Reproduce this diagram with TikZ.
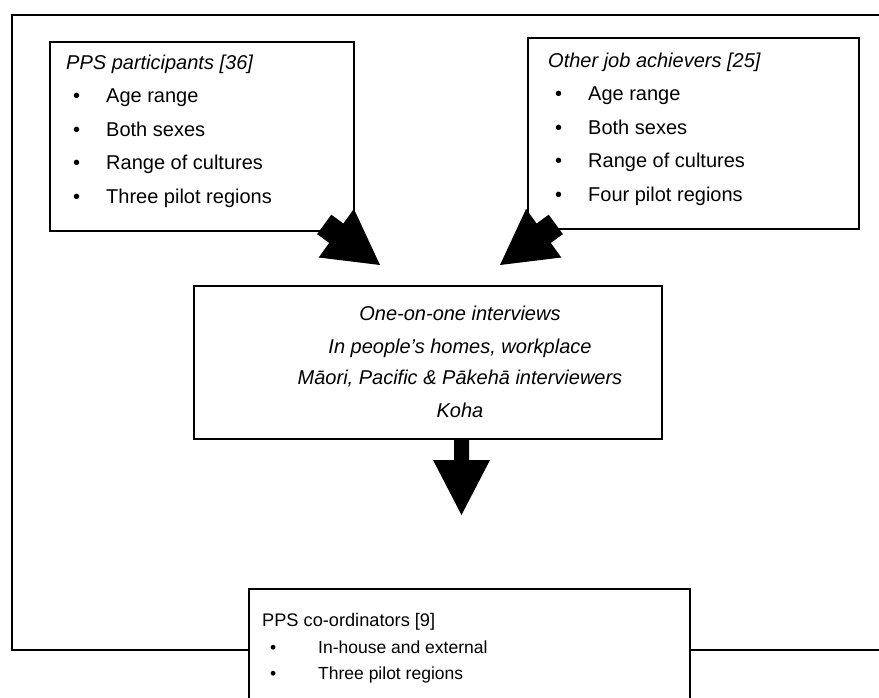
\documentclass[tikz,border=0pt]{standalone}
\usepackage{fontspec}
\setmainfont{Liberation Sans}
\begin{document}
\begin{tikzpicture}[x=1pt,y=-1pt, line join=miter,
  box/.style={draw=black, line width=1.6pt, fill=white, inner sep=0pt, anchor=north west},
  frameline/.style={draw=black, line width=1.8pt},
  blockarrow/.style={fill=black},
  txt/.style={anchor=base west, inner sep=0pt, font=\fontsize{20}{24}\selectfont},
  ital/.style={anchor=base west, inner sep=0pt, font=\fontsize{20}{24}\selectfont\itshape},
  itc/.style={anchor=base, inner sep=0pt, font=\fontsize{20}{24}\selectfont\itshape},
  smalltxt/.style={anchor=base west, inner sep=0pt, font=\fontsize{17.5}{20}\selectfont}]

\useasboundingbox (0,0) rectangle (879,697);
\fill[white] (0,0) rectangle (879,697);

% outer frame
\coordinate (ftr) at (879,15);
\coordinate (ftl) at (12,15);
\coordinate (fbl) at (12,650);
\coordinate (fbr) at (879,650);
\draw[frameline] (ftr) -- (ftl) -- (fbl) -- (fbr);

% boxes
\node[box, minimum width=304pt, minimum height=189pt] (ppsbox) at (49,41) {};
\node[box, minimum width=331pt, minimum height=191pt] (otherbox) at (527,37) {};
\node[box, minimum width=468pt, minimum height=153pt] (midbox) at (193,285) {};
\node[box, minimum width=441pt, minimum height=140pt] (coordbox) at (248,588) {};

% left box text
\node[ital] (t1) at (66,69) {PPS participants [36]};
\node[txt] (b11) at (73,102) {\textbullet};
\node[txt] (l11) at (106,102) {Age range};
\node[txt] (b12) at (73,136) {\textbullet};
\node[txt] (l12) at (106,136) {Both sexes};
\node[txt] (b13) at (73,169) {\textbullet};
\node[txt] (l13) at (106,169) {Range of cultures};
\node[txt] (b14) at (73,203) {\textbullet};
\node[txt] (l14) at (106,203) {Three pilot regions};

% right box text
\node[ital] (t2) at (548,67) {Other job achievers [25]};
\node[txt] (b21) at (555,100) {\textbullet};
\node[txt] (l21) at (588,100) {Age range};
\node[txt] (b22) at (555,134) {\textbullet};
\node[txt] (l22) at (588,134) {Both sexes};
\node[txt] (b23) at (555,167) {\textbullet};
\node[txt] (l23) at (588,167) {Range of cultures};
\node[txt] (b24) at (555,201) {\textbullet};
\node[txt] (l24) at (588,201) {Four pilot regions};

% middle box text
\node[itc] (m1) at (460,320) {One-on-one interviews};
\node[itc] (m2) at (460,353) {In people's homes, workplace};
\node[itc] (m3) at (460,384) {Māori, Pacific \& Pākehā interviewers};
\node[itc] (m4) at (460,417) {Koha};

% bottom box text
\node[smalltxt] (t3) at (262,626) {\fontsize{18.2}{20}\selectfont PPS co-ordinators [9]};
\node[smalltxt] (b31) at (270,653) {\textbullet};
\node[smalltxt] (l31) at (318,653) {In-house and external};
\node[smalltxt] (b32) at (270,679) {\textbullet};
\node[smalltxt] (l32) at (318,679) {Three pilot regions};

% block arrows
\fill[blockarrow] (331.3,214.7) -- (343.4,223.5) -- (353.9,208.9) -- (380,265)
  -- (318.7,257.5) -- (329.2,242.9) -- (317.1,234.1) -- cycle;
\fill[blockarrow] (548.7,214.7) -- (536.6,223.5) -- (526.1,208.9) -- (500,265)
  -- (561.3,257.5) -- (550.8,242.9) -- (562.9,234.1) -- cycle;
\fill[blockarrow] (454,438) -- (454,460) -- (433,460) -- (461.5,515)
  -- (490,460) -- (469,460) -- (469,438) -- cycle;
\end{tikzpicture}
\end{document}
